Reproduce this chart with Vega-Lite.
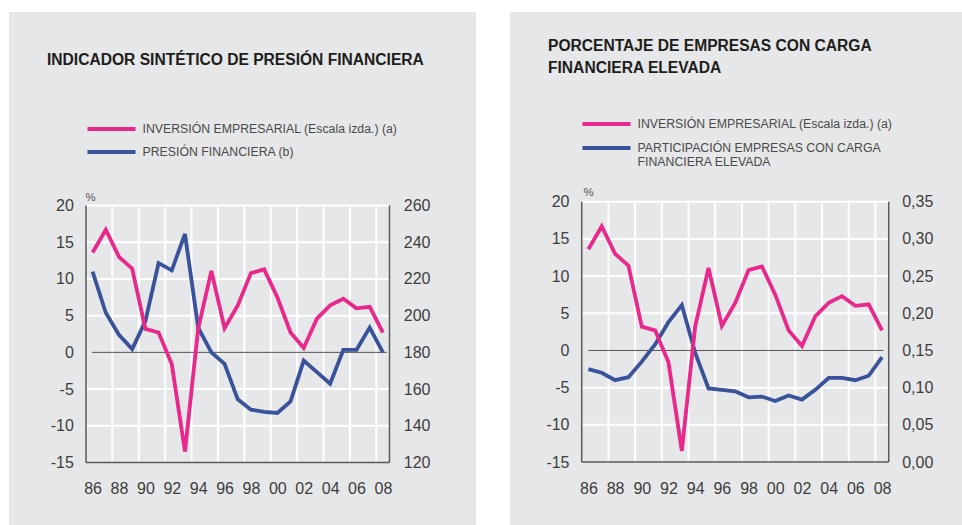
{
  "$schema": "https://vega.github.io/schema/vega-lite/v6.json",
  "background": "white",
  "padding": {"left": 9, "top": 12, "right": 0, "bottom": 0},
  "spacing": 34,
  "config": {
    "view": {"stroke": null, "fill": "#e6e7e8"},
    "font": "Liberation Sans",
    "axis": {"labelFont": "Liberation Sans", "labelFontSize": 16, "labelColor": "#3d3d3d", "domain": false, "ticks": false, "tickSize": 0, "grid": false, "labelOverlap": false, "labelFlush": false},
    "legend": {"labelFont": "Liberation Sans", "labelFontSize": 12.3, "labelColor": "#4a4a4a", "labelLimit": 500, "padding": 0}
  },
  "datasets": {
    "inv": [
      {"year": 1986, "v": 13.6}, {"year": 1987, "v": 16.7}, {"year": 1988, "v": 13.0}, {"year": 1989, "v": 11.4},
      {"year": 1990, "v": 3.2}, {"year": 1991, "v": 2.7}, {"year": 1992, "v": -1.6}, {"year": 1993, "v": -13.5},
      {"year": 1994, "v": 3.2}, {"year": 1995, "v": 11.1}, {"year": 1996, "v": 3.3}, {"year": 1997, "v": 6.4},
      {"year": 1998, "v": 10.8}, {"year": 1999, "v": 11.3}, {"year": 2000, "v": 7.5}, {"year": 2001, "v": 2.7},
      {"year": 2002, "v": 0.6}, {"year": 2003, "v": 4.6}, {"year": 2004, "v": 6.4}, {"year": 2005, "v": 7.3},
      {"year": 2006, "v": 6.0}, {"year": 2007, "v": 6.2}, {"year": 2008, "v": 2.7}
    ],
    "pf": [
      {"year": 1986, "v": 224}, {"year": 1987, "v": 201.6}, {"year": 1988, "v": 189.5}, {"year": 1989, "v": 181.8},
      {"year": 1990, "v": 197}, {"year": 1991, "v": 228.6}, {"year": 1992, "v": 224.7}, {"year": 1993, "v": 244.5},
      {"year": 1994, "v": 193.5}, {"year": 1995, "v": 180}, {"year": 1996, "v": 173.7}, {"year": 1997, "v": 154.4},
      {"year": 1998, "v": 148.8}, {"year": 1999, "v": 147.6}, {"year": 2000, "v": 147}, {"year": 2001, "v": 153.3},
      {"year": 2002, "v": 175.5}, {"year": 2003, "v": 169.2}, {"year": 2004, "v": 162.9}, {"year": 2005, "v": 181.4},
      {"year": 2006, "v": 181.4}, {"year": 2007, "v": 193.5}, {"year": 2008, "v": 180}
    ],
    "part": [
      {"year": 1986, "v": 0.125}, {"year": 1987, "v": 0.120}, {"year": 1988, "v": 0.110}, {"year": 1989, "v": 0.114},
      {"year": 1990, "v": 0.135}, {"year": 1991, "v": 0.158}, {"year": 1992, "v": 0.188}, {"year": 1993, "v": 0.211},
      {"year": 1994, "v": 0.147}, {"year": 1995, "v": 0.099}, {"year": 1996, "v": 0.097}, {"year": 1997, "v": 0.095},
      {"year": 1998, "v": 0.087}, {"year": 1999, "v": 0.088}, {"year": 2000, "v": 0.082}, {"year": 2001, "v": 0.0895},
      {"year": 2002, "v": 0.084}, {"year": 2003, "v": 0.097}, {"year": 2004, "v": 0.113}, {"year": 2005, "v": 0.113},
      {"year": 2006, "v": 0.110}, {"year": 2007, "v": 0.116}, {"year": 2008, "v": 0.141}
    ],
    "vgrid": [
      {"x": 1987.5}, {"x": 1989.5}, {"x": 1991.5}, {"x": 1993.5}, {"x": 1995.5}, {"x": 1997.5},
      {"x": 1999.5}, {"x": 2001.5}, {"x": 2003.5}, {"x": 2005.5}, {"x": 2007.5}
    ],
    "hgrid": [{"y": -10}, {"y": -5}, {"y": 5}, {"y": 10}, {"y": 15}, {"y": 20}],
    "one": [{"k": 1}]
  },
  "hconcat": [
    {
      "width": 467,
      "height": 513,
      "title": {"text": "INDICADOR SINTÉTICO DE PRESIÓN FINANCIERA", "anchor": "start", "frame": "group", "offset": -68.5, "dx": 38, "baseline": "alphabetic", "fontSize": 15.6, "font": "Liberation Sans", "fontWeight": "bold", "color": "#1d1d1b"},
      "layer": [
        {
          "data": {"name": "vgrid"},
          "mark": {"type": "rule", "color": "white", "strokeWidth": 2},
          "encoding": {
            "x": {"field": "x", "type": "quantitative", "scale": {"domain": [1979.665, 2015.055], "nice": false, "zero": false},
              "axis": {"orient": "bottom", "offset": -62.5, "values": [1986, 1988, 1990, 1992, 1994, 1996, 1998, 2000, 2002, 2004, 2006, 2008], "labelExpr": "substring(toString(datum.value), 2, 4)", "labelPadding": 18, "title": null}},
            "y": {"datum": -15, "type": "quantitative", "scale": {"domain": [-23.51, 46.35], "nice": false, "zero": false},
              "axis": {"orient": "left", "offset": -77, "values": [-15, -10, -5, 0, 5, 10, 15, 20], "labelExpr": "toString(datum.value)", "labelPadding": 12.7, "title": "%", "titleAngle": 0, "titleX": -1, "titleY": 188, "titleAlign": "left", "titleBaseline": "alphabetic", "titleFontSize": 11.5, "titleColor": "#555555", "titleFontWeight": "normal", "titleFont": "Liberation Sans"}},
            "y2": {"datum": 20}
          }
        },
        {
          "data": {"name": "hgrid"},
          "mark": {"type": "rule", "color": "white", "strokeWidth": 2},
          "encoding": {
            "y": {"field": "y", "type": "quantitative", "scale": {"domain": [-23.51, 46.35], "nice": false, "zero": false}, "axis": null},
            "x": {"datum": 1985.5}, "x2": {"datum": 2008.5}
          }
        },
        {
          "data": {"name": "one"},
          "mark": {"type": "rule", "color": "#555555", "strokeWidth": 1},
          "encoding": {
            "y": {"datum": 0, "type": "quantitative", "scale": {"domain": [-23.51, 46.35], "nice": false, "zero": false}, "axis": null},
            "x": {"datum": 1985.95}, "x2": {"datum": 2008.3}
          }
        },
        {
          "data": {"name": "one"},
          "mark": {"type": "rule", "color": "#5a5a5a", "strokeWidth": 1.5},
          "encoding": {
            "x": {"datum": 1985.5},
            "y": {"datum": -15, "type": "quantitative", "scale": {"domain": [-23.51, 46.35], "nice": false, "zero": false}, "axis": null},
            "y2": {"datum": 20}
          }
        },
        {
          "data": {"name": "one"},
          "mark": {"type": "rule", "color": "#5a5a5a", "strokeWidth": 1.5},
          "encoding": {
            "x": {"datum": 2008.5},
            "y": {"datum": -15, "type": "quantitative", "scale": {"domain": [-23.51, 46.35], "nice": false, "zero": false}, "axis": null},
            "y2": {"datum": 20}
          }
        },
        {
          "data": {"name": "one"},
          "mark": {"type": "rule", "color": "#5a5a5a", "strokeWidth": 1.5},
          "encoding": {
            "y": {"datum": -15, "type": "quantitative", "scale": {"domain": [-23.51, 46.35], "nice": false, "zero": false}, "axis": null},
            "x": {"datum": 1985.5}, "x2": {"datum": 2008.5}
          }
        },
        {
          "data": {"name": "pf"},
          "mark": {"type": "line", "strokeWidth": 3.8},
          "encoding": {
            "x": {"field": "year", "type": "quantitative"},
            "y": {"field": "v", "type": "quantitative", "scale": {"domain": [85.96, 365.4], "nice": false, "zero": false},
              "axis": {"orient": "right", "offset": -86.5, "values": [120, 140, 160, 180, 200, 220, 240, 260], "labelPadding": 13.8, "title": null}},
            "color": {"datum": "PRESIÓN FINANCIERA (b)", "type": "nominal",
              "scale": {"domain": ["INVERSIÓN EMPRESARIAL (Escala izda.) (a)", "PRESIÓN FINANCIERA (b)"], "range": ["#e8288a", "#3a5299"]},
              "legend": {"orient": "none", "legendX": 90.5, "legendY": 105, "title": null, "symbolType": "M-2.5,0H2.5", "symbolSize": 369, "symbolStrokeWidth": 4, "labelOffset": 19, "rowPadding": 3}}
          }
        },
        {
          "data": {"name": "inv"},
          "mark": {"type": "line", "strokeWidth": 3.8},
          "encoding": {
            "x": {"field": "year", "type": "quantitative"},
            "y": {"field": "v", "type": "quantitative", "scale": {"domain": [-23.51, 46.35], "nice": false, "zero": false}, "axis": null},
            "color": {"datum": "INVERSIÓN EMPRESARIAL (Escala izda.) (a)", "type": "nominal"}
          }
        }
      ],
      "resolve": {"scale": {"y": "independent"}}
    },
    {
      "width": 452,
      "height": 513,
      "title": {"text": ["PORCENTAJE DE EMPRESAS CON CARGA", "FINANCIERA ELEVADA"], "anchor": "start", "frame": "group", "offset": -76.2, "dx": 38, "baseline": "alphabetic", "lineHeight": 21.7, "fontSize": 15.6, "font": "Liberation Sans", "fontWeight": "bold", "color": "#1d1d1b"},
      "layer": [
        {
          "data": {"name": "vgrid"},
          "mark": {"type": "rule", "color": "white", "strokeWidth": 2},
          "encoding": {
            "x": {"field": "x", "type": "quantitative", "scale": {"domain": [1980.128, 2013.99], "nice": false, "zero": false},
              "axis": {"orient": "bottom", "offset": -63, "values": [1986, 1988, 1990, 1992, 1994, 1996, 1998, 2000, 2002, 2004, 2006, 2008], "labelExpr": "substring(toString(datum.value), 2, 4)", "labelPadding": 18, "title": null}},
            "y": {"datum": -15, "type": "quantitative", "scale": {"domain": [-23.47, 45.51], "nice": false, "zero": false},
              "axis": {"orient": "left", "offset": -71.7, "values": [-15, -10, -5, 0, 5, 10, 15, 20], "labelExpr": "toString(datum.value)", "labelPadding": 12.7, "title": "%", "titleAngle": 0, "titleX": 1.3, "titleY": 183, "titleAlign": "left", "titleBaseline": "alphabetic", "titleFontSize": 11.5, "titleColor": "#555555", "titleFontWeight": "normal", "titleFont": "Liberation Sans"}},
            "y2": {"datum": 20}
          }
        },
        {
          "data": {"name": "hgrid"},
          "mark": {"type": "rule", "color": "white", "strokeWidth": 2},
          "encoding": {
            "y": {"field": "y", "type": "quantitative", "scale": {"domain": [-23.47, 45.51], "nice": false, "zero": false}, "axis": null},
            "x": {"datum": 1985.5}, "x2": {"datum": 2008.5}
          }
        },
        {
          "data": {"name": "one"},
          "mark": {"type": "rule", "color": "#555555", "strokeWidth": 1},
          "encoding": {
            "y": {"datum": 0, "type": "quantitative", "scale": {"domain": [-23.47, 45.51], "nice": false, "zero": false}, "axis": null},
            "x": {"datum": 1986}, "x2": {"datum": 2008.1}
          }
        },
        {
          "data": {"name": "one"},
          "mark": {"type": "rule", "color": "#5a5a5a", "strokeWidth": 1.5},
          "encoding": {
            "x": {"datum": 1985.5},
            "y": {"datum": -15, "type": "quantitative", "scale": {"domain": [-23.47, 45.51], "nice": false, "zero": false}, "axis": null},
            "y2": {"datum": 20}
          }
        },
        {
          "data": {"name": "one"},
          "mark": {"type": "rule", "color": "#5a5a5a", "strokeWidth": 1.5},
          "encoding": {
            "x": {"datum": 2008.5},
            "y": {"datum": -15, "type": "quantitative", "scale": {"domain": [-23.47, 45.51], "nice": false, "zero": false}, "axis": null},
            "y2": {"datum": 20}
          }
        },
        {
          "data": {"name": "one"},
          "mark": {"type": "rule", "color": "#5a5a5a", "strokeWidth": 1.5},
          "encoding": {
            "y": {"datum": -15, "type": "quantitative", "scale": {"domain": [-23.47, 45.51], "nice": false, "zero": false}, "axis": null},
            "x": {"datum": 1985.5}, "x2": {"datum": 2008.5}
          }
        },
        {
          "data": {"name": "part"},
          "mark": {"type": "line", "strokeWidth": 3.8},
          "encoding": {
            "x": {"field": "year", "type": "quantitative"},
            "y": {"field": "v", "type": "quantitative", "scale": {"domain": [-0.0847, 0.6051], "nice": false, "zero": false},
              "axis": {"orient": "right", "offset": -73.3, "values": [0, 0.05, 0.1, 0.15, 0.2, 0.25, 0.3, 0.35], "labelExpr": "replace(format(datum.value, '.2f'), '.', ',')", "labelPadding": 13, "title": null}},
            "color": {"datum": "PARTICIPACIÓN EMPRESAS CON CARGA FINANCIERA ELEVADA", "type": "nominal",
              "scale": {"domain": ["INVERSIÓN EMPRESARIAL (Escala izda.) (a)", "PARTICIPACIÓN EMPRESAS CON CARGA FINANCIERA ELEVADA"], "range": ["#e8288a", "#3a5299"]},
              "legend": {"orient": "none", "legendX": 84.5, "legendY": 100, "title": null, "symbolType": "M-2.5,0H2.5", "symbolSize": 369, "symbolStrokeWidth": 4, "labelOffset": 19, "rowPadding": 4,
                "labelExpr": "datum.label == 'PARTICIPACIÓN EMPRESAS CON CARGA FINANCIERA ELEVADA' ? ['PARTICIPACIÓN EMPRESAS CON CARGA', 'FINANCIERA ELEVADA'] : datum.label"}}
          }
        },
        {
          "data": {"name": "inv"},
          "mark": {"type": "line", "strokeWidth": 3.8},
          "encoding": {
            "x": {"field": "year", "type": "quantitative"},
            "y": {"field": "v", "type": "quantitative", "scale": {"domain": [-23.47, 45.51], "nice": false, "zero": false}, "axis": null},
            "color": {"datum": "INVERSIÓN EMPRESARIAL (Escala izda.) (a)", "type": "nominal"}
          }
        }
      ],
      "resolve": {"scale": {"y": "independent"}}
    }
  ],
  "resolve": {"scale": {"color": "independent"}, "legend": {"color": "independent"}}
}
